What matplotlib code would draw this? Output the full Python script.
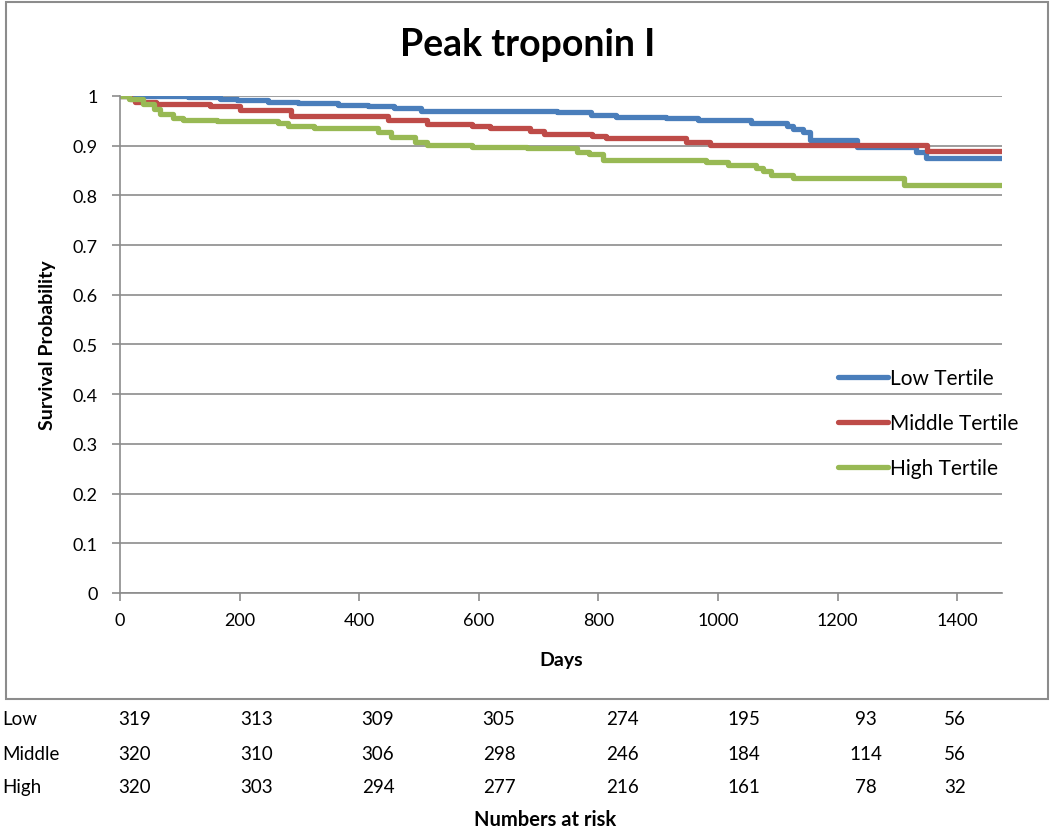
import matplotlib
matplotlib.use("Agg")
import matplotlib.pyplot as plt
from matplotlib.patches import Rectangle

plt.rcParams['font.family'] = ['Lato', 'DejaVu Sans']

# step curves: (day, survival) change points
low_days = [0, 113, 168, 196, 247, 297, 364, 414, 458, 504, 731, 787, 829, 913, 966, 1056, 1115, 1126, 1143,
            1154, 1232, 1331, 1348, 1475]
low_surv = [1.0, 0.997, 0.994, 0.991, 0.988, 0.985, 0.982, 0.979, 0.976, 0.969, 0.967, 0.962, 0.958, 0.955, 0.951,
            0.946, 0.939, 0.934, 0.928, 0.912, 0.897, 0.888, 0.875, 0.875]

mid_days = [0, 17, 25, 60, 150, 200, 286, 448, 513, 588, 619, 686, 709, 790, 812, 946, 986, 1350, 1475]
mid_surv = [1.0, 0.993, 0.988, 0.984, 0.979, 0.971, 0.960, 0.951, 0.944, 0.940, 0.936, 0.930, 0.924, 0.919, 0.915,
            0.908, 0.902, 0.890, 0.890]

high_days = [0, 15, 39, 56, 67, 89, 106, 163, 264, 281, 325, 432, 454, 493, 513, 588, 681, 765, 785, 807,
             980, 1017, 1064, 1076, 1089, 1126, 1311, 1475]
high_surv = [1.0, 0.993, 0.984, 0.974, 0.964, 0.956, 0.952, 0.949, 0.945, 0.940, 0.935, 0.927, 0.917, 0.908, 0.902,
             0.898, 0.896, 0.888, 0.884, 0.871, 0.867, 0.861, 0.855, 0.849, 0.842, 0.835, 0.821, 0.821]

series_names = ['Low Tertile', 'Middle Tertile', 'High Tertile']
series_colors = ['#4A7EBB', '#BE4B48', '#98B954']

# numbers at risk
risk_groups = ['Low', 'Middle', 'High']
risk_low = [319, 313, 309, 305, 274, 195, 93, 56]
risk_mid = [320, 310, 306, 298, 246, 184, 114, 56]
risk_high = [320, 303, 294, 277, 216, 161, 78, 32]

fig = plt.figure(figsize=(10.5, 8.29), dpi=100)
ax = fig.add_axes([0.1143, 0.2835, 0.84, 0.5995])

curves = [(low_days, low_surv), (mid_days, mid_surv), (high_days, high_surv)]
for (d, s), name, c in zip(curves, series_names, series_colors):
    ax.plot(d, s, drawstyle='steps-post', color=c, lw=3.8, label=name, solid_capstyle='round')

ax.set_xlim(0, 1475)
ax.set_ylim(0, 1)
ax.set_xticks(range(0, 1401, 200))
ax.set_yticks([i / 10 for i in range(11)])
ax.set_yticklabels(['0', '0.1', '0.2', '0.3', '0.4', '0.5', '0.6', '0.7', '0.8', '0.9', '1'])
ax.yaxis.grid(True, color='#8c8c8c', lw=1.2)
ax.set_axisbelow(True)
for side in ['top', 'right']:
    ax.spines[side].set_visible(False)
for side in ['left', 'bottom']:
    ax.spines[side].set_color('#8c8c8c')
    ax.spines[side].set_linewidth(1.2)
ax.tick_params(axis='both', colors='#8c8c8c', length=6, width=1.2, labelsize=13, labelcolor='black')
ax.tick_params(axis='y', pad=10)
ax.tick_params(axis='x', pad=8)

fig.text(528 / 1050, 1 - 45 / 829, 'Peak troponin I', fontsize=27, fontweight='bold', ha='center', va='center')
ax.set_xlabel('Days', fontsize=14, fontweight='bold', labelpad=16)
ax.set_ylabel('Survival Probability', fontsize=14, fontweight='bold', labelpad=12)

ax.legend(loc='center left', bbox_to_anchor=(0.814, 0.342), frameon=False, fontsize=15,
          handlelength=2.4, handletextpad=0.1, labelspacing=1.2, borderaxespad=0, borderpad=0)

# outer chart frame
fig.patches.append(Rectangle((6 / 1050, 1 - 700 / 829), 1042 / 1050, 697 / 829, transform=fig.transFigure,
                             fill=False, edgecolor='#8c8c8c', lw=1.5))

# risk table
col_x = [135, 257, 378, 499, 622, 744, 866, 955]
row_y = [720, 755, 788]
for label, counts, y in zip(risk_groups, [risk_low, risk_mid, risk_high], row_y):
    fig.text(2 / 1050, 1 - y / 829, label, fontsize=13.5, va='center', ha='left')
    for cx, n in zip(col_x, counts):
        fig.text(cx / 1050, 1 - y / 829, str(n), fontsize=13.5, va='center', ha='center')
fig.text(545 / 1050, 1 - 820 / 829, 'Numbers at risk', fontsize=14.5, fontweight='bold', va='center', ha='center')

fig.savefig('out.png', dpi=100)
